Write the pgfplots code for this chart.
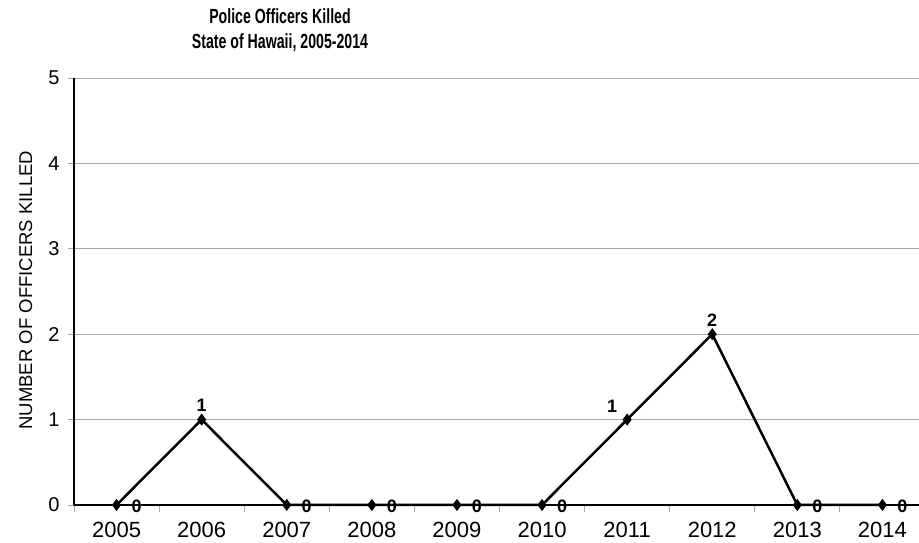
\documentclass[border=0pt]{standalone}
\usepackage{fontspec}
\setmainfont{Liberation Sans}
\newfontfamily\titlefont[FakeStretch=0.69]{Liberation Sans}
\usepackage{pgfplots}
\pgfplotsset{compat=1.18}
\definecolor{gridgray}{HTML}{A6A6A6}
\begin{document}
\begin{tikzpicture}[x=1bp,y=1bp]
\useasboundingbox (0,0) rectangle (919,543);
\node[align=center, font=\titlefont\bfseries\fontsize{20.5bp}{25bp}\selectfont] at (280,512.5) {Police Officers Killed\\State of Hawaii, 2005-2014};
\begin{axis}[
  at={(74bp,38bp)}, anchor=south west,
  scale only axis, width=845bp, height=427bp,
  xmin=-0.5, xmax=9.43, ymin=0, ymax=5,
  axis x line*=bottom, axis y line*=left,
  axis line style={black, line width=1.2bp, -},
  xtick={0,...,9},
  xticklabels={2005,2006,2007,2008,2009,2010,2011,2012,2013,2014},
  minor xtick={-0.5,0.5,...,8.5},
  ytick={0,...,5},
  tick align=outside,
  major tick length=6bp,
  minor tick length=7bp,
  x tick style={draw=none},
  minor x tick style={draw=gridgray, line width=0.8bp},
  y tick style={draw=gridgray, line width=0.8bp},
  ymajorgrids,
  grid style={gridgray, line width=0.8bp},
  xticklabel style={font=\fontsize{22bp}{22bp}\selectfont, yshift=-8bp},
  yticklabel style={font=\fontsize{20bp}{20bp}\selectfont, xshift=-5bp},
  /pgf/number format/assume math mode=true,
  ylabel={NUMBER OF OFFICERS KILLED},
  ylabel style={font=\fontsize{18.5bp}{18.5bp}\selectfont, at={(axis description cs:-0.057,0.503)}, anchor=center, rotate=0},
  clip=false,
]
\addplot[black, line width=2.5bp, mark=diamond*, mark size=4bp, mark options={solid, fill=black}]
  coordinates {(0,0) (1,1) (2,0) (3,0) (4,0) (5,0) (6,1) (7,2) (8,0) (9,0)};
% zero labels, right of the marker
\addplot[draw=none, mark=none, nodes near coords, point meta=explicit symbolic,
  nodes near coords style={font=\bfseries\fontsize{18bp}{18bp}\selectfont, anchor=center, xshift=20bp, yshift=-1bp}]
  coordinates {(0,0)[0] (2,0)[0] (3,0)[0] (4,0)[0] (5,0)[0] (8,0)[0] (9,0)[0]};
% labels above the marker
\addplot[draw=none, mark=none, nodes near coords, point meta=explicit symbolic,
  nodes near coords style={font=\bfseries\fontsize{18bp}{18bp}\selectfont, anchor=center, yshift=14bp}]
  coordinates {(1,1)[1] (7,2)[2]};
% label left-above the marker
\addplot[draw=none, mark=none, nodes near coords, point meta=explicit symbolic,
  nodes near coords style={font=\bfseries\fontsize{18bp}{18bp}\selectfont, anchor=center, xshift=-15bp, yshift=13bp}]
  coordinates {(6,1)[1]};
\end{axis}
\end{tikzpicture}
\end{document}
